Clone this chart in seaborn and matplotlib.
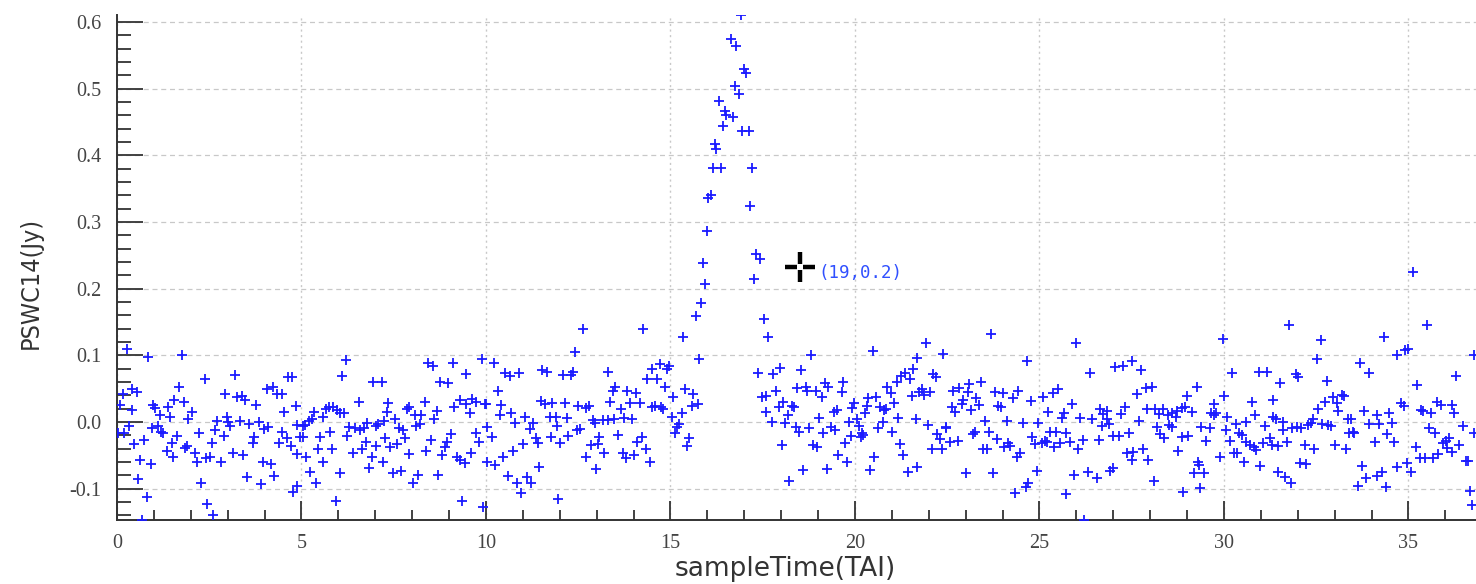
import numpy as np
import pandas as pd
import matplotlib
matplotlib.use('Agg')
import matplotlib.pyplot as plt
from matplotlib.ticker import MultipleLocator, FormatStrFormatter
import seaborn as sns


# sample times (TAI) and PSWC14 flux (Jy) in chunks of time
time_0_5 = [0.26, 0.85, 1.75, 2.39, 3.2, 4.64, 4.73, 0.40, 0.53, 0.15,
            1.69, 4.06, 4.22, 4.33, 4.46, 2.93, 3.26, 3.38, 3.47, 1.54,
            1.82, 3.78, 4.85, 0.08, 0.98, 1.03, 1.39, 0.42, 2.02, 1.16,
            1.43, 1.93, 4.53, 2.7, 2.97, 3.02, 3.32, 3.59, 3.86, 3.99,
            4.1, 4.89, 0.04, 0.19, 0.33, 0.94, 1.12, 1.18, 1.25, 1.62,
            2.23, 2.66, 3.06, 2.9, 3.7, 3.68, 4.46, 4.6, 4.95, 0.46,
            0.73, 1.48, 1.35, 1.52, 1.91, 1.84, 2.11, 2.57, 3.14, 3.42,
            4.38, 4.71, 4.89, 0.62, 0.91, 2.18, 2.41, 2.52, 2.81, 3.95,
            4.17, 3.53, 4.26, 0.58, 3.89, 2.29, 4.87, 4.78, 0.8, 2.43,
            2.61, 0.67]
flux_0_5 = [0.109, 0.098, 0.1005, 0.064, 0.0705, 0.068, 0.067, 0.049, 0.0455, 0.042,
            0.053, 0.049, 0.053, 0.042, 0.042, 0.042, 0.038, 0.039, 0.033, 0.033,
            0.0305, 0.0255, 0.024, 0.0255, 0.0255, 0.0205, 0.022, 0.018, 0.0155, 0.0105,
            0.008, 0.004, 0.0155, 0.002, 0.007, 0.0005, 0.002, -0.003, 0.0005, -0.011,
            -0.007, -0.0045, -0.017, -0.017, -0.006, -0.0095, -0.006, -0.0145, -0.016, -0.021,
            -0.017, -0.012, -0.006, -0.021, -0.023, -0.032, -0.0145, -0.0245, -0.023, -0.033,
            -0.027, -0.032, -0.043, -0.052, -0.036, -0.0395, -0.046, -0.031, -0.046, -0.0495,
            -0.031, -0.036, -0.048, -0.057, -0.063, -0.0595, -0.0545, -0.052, -0.0595, -0.0595,
            -0.063, -0.083, -0.081, -0.086, -0.093, -0.092, -0.096, -0.1045, -0.112, -0.123,
            -0.1395, -0.147]

time_5_10 = [6.21, 6.09, 8.44, 8.56, 9.1, 9.88, 9.46, 6.93, 7.17, 8.75,
             8.98, 6.57, 7.35, 7.33, 5.34, 5.28, 5.21, 5.09, 5.05, 5.59,
             5.66, 5.75, 5.86, 5.95, 6.03, 6.15, 6.29, 6.45, 6.58, 6.69,
             6.78, 7.02, 7.08, 7.23, 7.54, 7.65, 7.74, 7.85, 7.92, 8.08,
             8.23, 8.10, 8.21, 8.35, 8.59, 8.66, 9.13, 9.29, 9.47, 9.56,
             9.63, 9.72, 9.97, 10.03, 9.72, 5.04, 5.5, 5.77, 6.24, 6.75,
             7.26, 7.81, 8.5, 9.04, 8.94, 8.89, 9.81, 5.46, 5.82, 6.63,
             7.02, 7.41, 7.58, 5.12, 6.4, 6.9, 7.92, 8.37, 8.82, 9.6,
             9.21, 9.29, 9.43, 10.03, 5.59, 7.2, 6.84, 5.23, 6.03, 7.47,
             7.71, 8.17, 8.71, 5.39, 8.02, 5.93, 9.34, 9.93]
flux_5_10 = [0.093, 0.069, 0.089, 0.084, 0.089, 0.094, 0.072, 0.06, 0.06, 0.0605,
             0.058, 0.0305, 0.029, 0.0155, 0.0155, 0.004, 0.002, -0.0045, -0.006, 0.008,
             0.019, 0.022, 0.022, 0.018, 0.014, 0.013, -0.007, -0.0095, -0.012, -0.0095,
             -0.001, -0.006, -0.003, 0.002, 0.004, -0.0095, -0.012, 0.019, 0.023, 0.0105,
             0.0105, -0.006, -0.003, 0.0305, 0.004, 0.017, 0.023, 0.033, 0.027, 0.014,
             0.034, 0.0305, 0.027, -0.008, -0.016, -0.023, -0.023, -0.0145, -0.021, -0.0295,
             -0.0245, -0.0245, -0.027, -0.018, -0.0295, -0.037, -0.0295, -0.041, -0.041, -0.041,
             -0.036, -0.038, -0.033, -0.052, -0.046, -0.052, -0.048, -0.043, -0.0495, -0.046,
             -0.053, -0.057, -0.062, -0.0595, -0.0595, -0.0595, -0.0695, -0.0745, -0.076, -0.077,
             -0.073, -0.0795, -0.0795, -0.091, -0.091, -0.118, -0.118, -0.128]

time_10_15 = [12.62, 14.26, 12.41, 10.22, 10.52, 10.65, 10.9, 11.51, 11.64, 12.08,
              12.3, 12.35, 13.32, 14.49, 14.72, 14.9, 14.97, 14.37, 14.64, 14.85,
              10.33, 10.0, 10.42, 10.38, 10.69, 11.05, 10.78, 11.48, 11.6, 11.8,
              12.14, 11.74, 11.9, 12.2, 11.28, 11.93, 12.5, 12.71, 12.8, 13.49,
              13.43, 13.83, 14.06, 13.36, 13.9, 14.17, 13.65, 14.51, 14.57, 14.75,
              14.81, 12.89, 12.96, 13.18, 13.32, 13.47, 13.74, 13.97, 12.54, 12.46,
              10.15, 11.18, 11.36, 11.4, 11.75, 12.01, 12.23, 11.01, 10.74, 10.47,
              10.24, 11.44, 13.07, 12.84, 13.04, 13.2, 12.71, 12.98, 13.59, 14.24,
              14.1, 14.34, 13.7, 13.79, 14.01, 14.44, 10.6, 11.12, 10.85, 11.21,
              10.94, 11.96]
flux_10_15 = [0.139, 0.139, 0.1045, 0.089, 0.074, 0.069, 0.074, 0.078, 0.0755, 0.0705,
              0.0705, 0.0755, 0.0755, 0.079, 0.087, 0.079, 0.084, 0.064, 0.064, 0.053,
              0.047, 0.027, 0.0255, 0.0105, 0.014, 0.008, -0.001, 0.032, 0.027, 0.029,
              0.029, 0.008, 0.008, 0.0055, -0.001, -0.006, 0.024, 0.0205, 0.024, 0.052,
              0.047, 0.047, 0.043, 0.0305, 0.029, 0.029, 0.019, 0.022, 0.024, 0.022,
              0.019, 0.003, -0.002, 0.003, 0.003, 0.004, 0.0055, 0.004, -0.011, -0.012,
              -0.023, -0.011, -0.0245, -0.031, -0.023, -0.031, -0.021, -0.033, -0.043, -0.053,
              -0.0645, -0.068, -0.023, -0.0345, -0.033, -0.046, -0.052, -0.071, -0.0195, -0.023,
              -0.0295, -0.041, -0.046, -0.0545, -0.0495, -0.0595, -0.081, -0.083, -0.091, -0.092,
              -0.106, -0.116]

time_rise = [15.33, 15.78, 15.08, 15.39, 15.6, 15.58, 15.74, 15.3, 15.03, 15.23,
             15.18, 15.12, 15.5, 15.46]
flux_rise = [0.128, 0.094, 0.037, 0.05, 0.042, 0.024, 0.0265, 0.013, 0.008, -0.003,
             -0.007, -0.016, -0.0245, -0.036]

time_flare = [16.90, 16.63, 16.78, 16.99, 17.05, 16.74, 16.85, 16.31, 16.47, 16.5,
              16.69, 16.41, 16.93, 17.14, 16.2, 16.23, 16.14, 16.38, 17.21, 16.09,
              16.03, 17.15, 15.98, 17.31, 17.43, 15.87, 17.26, 15.93, 15.82, 15.68,
              17.53]
flux_flare = [0.61, 0.574, 0.5645, 0.53, 0.524, 0.504, 0.492, 0.482, 0.4665, 0.46,
              0.457, 0.444, 0.4365, 0.4365, 0.417, 0.409, 0.3815, 0.3805, 0.3805, 0.3405,
              0.3355, 0.3245, 0.287, 0.252, 0.244, 0.239, 0.215, 0.2075, 0.179, 0.1595,
              0.154]

time_17_22 = [17.65, 18.8, 20.48, 21.67, 17.38, 17.79, 17.97, 18.55, 21.58, 21.35,
              21.26, 21.49, 21.13, 19.19, 19.28, 19.68, 19.64, 18.44, 18.67, 18.71,
              18.94, 19.1, 17.86, 17.47, 17.6, 20.86, 20.97, 21.74, 21.54, 20.36,
              20.58, 21.06, 18.06, 17.95, 18.28, 18.35, 17.59, 18.19, 19.5, 19.43,
              19.98, 19.92, 20.32, 20.27, 20.69, 20.78, 20.85, 19.03, 17.74, 18.1,
              18.4, 18.49, 18.76, 19.14, 19.34, 19.46, 19.85, 20.05, 20.12, 19.89,
              20.18, 20.21, 20.15, 20.63, 20.77, 21.17, 20.99, 21.65, 18.01, 18.85,
              18.98, 19.73, 21.22, 19.55, 19.78, 20.52, 21.31, 18.6, 19.25, 20.42,
              21.44, 21.69, 18.22]
flux_17_22 = [0.128, 0.1005, 0.1065, 0.0955, 0.073, 0.0715, 0.0805, 0.078, 0.079, 0.074,
              0.069, 0.064, 0.0605, 0.059, 0.053, 0.06, 0.0445, 0.0505, 0.053, 0.0465,
              0.0465, 0.037, 0.0465, 0.037, 0.039, 0.053, 0.044, 0.0455, 0.039, 0.0355,
              0.037, 0.029, 0.0305, 0.023, 0.024, 0.022, 0.0155, 0.0105, 0.018, 0.0155,
              0.029, 0.0205, 0.024, 0.013, 0.022, 0.018, 0.019, 0.0065, -0.0005, -0.002,
              -0.007, -0.0145, -0.0095, -0.017, -0.007, -0.012, 0.0005, 0.004, -0.006, -0.021,
              -0.017, -0.0195, -0.023, -0.0095, 0.0005, 0.0065, -0.0145, 0.004, -0.0345, -0.0345,
              -0.037, -0.032, -0.033, -0.0495, -0.0595, -0.052, -0.0495, -0.072, -0.07, -0.072,
              -0.075, -0.067, -0.0885]

time_22_27 = [23.68, 21.93, 25.99, 22.39, 24.65, 26.37, 22.12, 22.19, 23.41, 23.1,
              22.83, 22.65, 23.05, 21.81, 21.87, 22.03, 23.8, 24.02, 24.43, 24.29,
              24.76, 25.09, 25.36, 25.51, 22.94, 22.89, 23.29, 23.37, 22.62, 22.71,
              23.14, 23.88, 23.95, 25.23, 25.66, 25.6, 25.89, 26.09, 26.41, 26.63,
              26.72, 26.83, 26.69, 21.99, 22.48, 22.46, 23.52, 24.11, 24.54, 24.97,
              22.23, 22.3, 22.57, 22.8, 23.2, 23.25, 23.64, 23.86, 24.15, 24.2,
              24.04, 24.81, 24.88, 25.06, 25.15, 25.21, 25.28, 25.45, 25.72, 25.56,
              25.39, 25.83, 26.17, 26.05, 26.6, 22.08, 22.35, 23.46, 23.59, 24.47,
              24.38, 23.01, 23.75, 24.92, 25.93, 26.32, 26.55, 24.7, 24.64, 24.33,
              25.72, 26.2]
flux_22_27 = [0.132, 0.118, 0.118, 0.102, 0.0915, 0.073, 0.072, 0.067, 0.06, 0.0565,
              0.0515, 0.047, 0.0455, 0.0495, 0.0405, 0.0455, 0.0455, 0.043, 0.047, 0.0355,
              0.0315, 0.037, 0.044, 0.049, 0.033, 0.027, 0.0355, 0.0255, 0.022, 0.0155,
              0.018, 0.024, 0.022, 0.0155, 0.013, 0.0055, 0.0265, 0.0055, 0.004, 0.019,
              0.0115, 0.004, -0.006, -0.005, -0.007, -0.0095, 0.0015, 0.0015, -0.001, -0.001,
              -0.0185, -0.026, -0.0295, -0.028, -0.0185, -0.0145, -0.0145, -0.0255, -0.031, -0.036,
              -0.037, -0.022, -0.033, -0.031, -0.028, -0.0295, -0.0145, -0.0145, -0.016, -0.032,
              -0.038, -0.0295, -0.027, -0.041, -0.027, -0.041, -0.041, -0.041, -0.041, -0.047,
              -0.052, -0.077, -0.077, -0.073, -0.0795, -0.0745, -0.0835, -0.092, -0.097, -0.107,
              -0.108, -0.147]

time_27_32 = [31.77, 29.96, 27.52, 27.04, 27.27, 27.75, 30.21, 30.96, 31.16, 31.95,
              31.52, 29.26, 28.04, 27.89, 27.63, 28.99, 30.0, 30.75, 31.32, 29.73,
              26.82, 27.31, 27.2, 27.92, 28.13, 28.34, 28.25, 28.49, 28.58, 28.7,
              28.73, 28.85, 28.94, 29.14, 29.65, 29.74, 29.79, 30.09, 30.84, 31.33,
              31.4, 31.59, 27.7, 26.89, 28.19, 28.52, 28.58, 29.37, 29.62, 30.32,
              30.61, 31.1, 31.59, 31.84, 31.97, 30.05, 27.0, 27.16, 27.43, 28.27,
              28.37, 28.85, 29.03, 29.51, 30.15, 30.42, 30.48, 30.61, 30.7, 30.81,
              30.88, 31.06, 31.26, 31.29, 31.47, 31.7, 27.36, 27.54, 27.8, 28.76,
              29.88, 30.26, 30.35, 27.5, 27.95, 29.3, 29.33, 30.54, 30.98, 32.06,
              27.0, 26.91, 29.19, 29.46, 31.47, 31.65, 28.1, 31.81, 28.88, 29.35]
flux_27_32 = [0.1455, 0.1245, 0.092, 0.082, 0.084, 0.078, 0.073, 0.0755, 0.0755, 0.072,
              0.058, 0.053, 0.053, 0.0505, 0.042, 0.039, 0.039, 0.0305, 0.033, 0.027,
              0.017, 0.022, 0.012, 0.019, 0.019, 0.019, 0.012, 0.0105, 0.013, 0.008,
              0.017, 0.0205, 0.022, 0.0155, 0.013, 0.0105, 0.013, 0.008, 0.0105, 0.007,
              0.004, 0.0005, 0.002, -0.003, -0.008, -0.0045, -0.008, -0.007, -0.0095, -0.003,
              0.0005, -0.006, -0.012, -0.0095, -0.008, -0.012, -0.021, -0.021, -0.017, -0.018,
              -0.0245, -0.023, -0.021, -0.028, -0.028, -0.017, -0.0195, -0.0295, -0.0345, -0.038,
              -0.042, -0.031, -0.0245, -0.0345, -0.036, -0.0295, -0.046, -0.0445, -0.041, -0.043,
              -0.052, -0.046, -0.046, -0.057, -0.057, -0.0595, -0.0645, -0.0595, -0.066, -0.062,
              -0.0695, -0.073, -0.076, -0.076, -0.0745, -0.083, -0.0885, -0.091, -0.1045, -0.0995]

time_32_37 = [35.13, 35.49, 32.62, 34.33, 32.51, 34.70, 34.91, 35.0, 36.78, 33.69,
              33.94, 32.0, 32.78, 36.3, 35.22, 32.96, 33.05, 33.19, 33.25, 32.73,
              32.55, 33.10, 33.79, 34.15, 34.48, 34.81, 34.87, 35.33, 35.40, 35.62,
              35.76, 35.89, 36.19, 36.23, 32.1, 32.28, 32.35, 32.40, 32.65, 32.83,
              32.89, 33.36, 33.45, 33.94, 34.21, 34.54, 35.56, 35.71, 36.47, 36.78,
              33.40, 33.49, 33.53, 34.41, 32.19, 32.44, 33.01, 33.32, 34.09, 34.6,
              35.94, 36.01, 36.1, 36.05, 36.17, 36.38, 35.21, 35.32, 35.45, 35.66,
              35.81, 36.55, 36.61, 32.22, 33.73, 34.70, 34.97, 35.06, 34.27, 34.15,
              33.86, 33.64, 34.39, 36.66, 36.71]
flux_32_37 = [0.2255, 0.1455, 0.123, 0.127, 0.094, 0.1005, 0.108, 0.109, 0.1005, 0.089,
              0.073, 0.067, 0.062, 0.069, 0.0555, 0.038, 0.029, 0.0405, 0.039, 0.0305,
              0.019, 0.017, 0.017, 0.0105, 0.013, 0.029, 0.024, 0.018, 0.017, 0.014,
              0.0305, 0.0255, 0.0255, 0.013, -0.0095, -0.0045, -0.001, 0.004, -0.003, -0.0045,
              -0.006, 0.004, 0.004, -0.003, -0.003, -0.001, -0.0095, -0.016, -0.006, -0.017,
              -0.016, -0.0145, -0.016, -0.018, -0.0345, -0.041, -0.0345, -0.041, -0.0295, -0.0295,
              -0.031, -0.028, -0.0245, -0.0395, -0.0445, -0.0345, -0.038, -0.0545, -0.0545, -0.0545,
              -0.048, -0.058, -0.058, -0.063, -0.066, -0.068, -0.061, -0.0745, -0.0745, -0.081,
              -0.0845, -0.096, -0.098, -0.103, -0.1245]

x_ticks = [0, 5, 10, 15, 20, 25, 30, 35]
y_ticks = [-0.1, 0.0, 0.1, 0.2, 0.3, 0.4, 0.5, 0.6]

cursor_pos = (18.51, 0.232)
cursor_label = '(19,0.2)'


times = [time_0_5, time_5_10, time_10_15, time_rise, time_flare,
         time_17_22, time_22_27, time_27_32, time_32_37]
fluxes = [flux_0_5, flux_5_10, flux_10_15, flux_rise, flux_flare,
          flux_17_22, flux_22_27, flux_27_32, flux_32_37]

df = pd.DataFrame({'sampleTime': np.concatenate(times),
                   'flux': np.concatenate(fluxes)})

sns.set_style('white')
plt.rcParams['axes.unicode_minus'] = False

fig = plt.figure(figsize=(14.76, 5.84), dpi=100)
ax = fig.add_axes([117 / 1476, 64 / 584, 1359 / 1476, 505 / 584])

sns.scatterplot(data=df, x='sampleTime', y='flux', marker='+', color='#1a1aff',
                s=50, linewidth=1.3, ax=ax, zorder=3)

ax.set_xlim(0, 36.83)
ax.set_ylim(-0.147, 0.6105)

ax.set_xticks(x_ticks)
ax.set_yticks(y_ticks)
ax.xaxis.set_minor_locator(MultipleLocator(1))
ax.yaxis.set_minor_locator(MultipleLocator(0.02))
ax.yaxis.set_major_formatter(FormatStrFormatter('%.1f'))

for side in ['top', 'right']:
    ax.spines[side].set_visible(False)
for side in ['left', 'bottom']:
    ax.spines[side].set_color('#333333')
    ax.spines[side].set_linewidth(1.4)

# seaborn's white style hides ticks, switch them back on (inward, like the original)
ax.tick_params(bottom=True, left=True, which='both')
ax.tick_params(axis='y', which='major', direction='in', length=19, width=1.3, color='#333333', pad=11)
ax.tick_params(axis='y', which='minor', direction='in', length=10, width=1.3, color='#333333')
ax.tick_params(axis='x', which='major', direction='in', length=14, width=1.3, color='#333333', pad=10)
ax.tick_params(axis='x', which='minor', direction='in', length=7, width=1.3, color='#333333')

for lab in ax.get_xticklabels() + ax.get_yticklabels():
    lab.set_fontfamily('Liberation Serif')
    lab.set_fontsize(14.5)
    lab.set_color('#444444')

ax.yaxis.grid(True, which='major', linestyle=(0, (4, 3)), color='#c8c8c8', linewidth=0.9)
ax.xaxis.grid(True, which='major', linestyle=(0, (1.5, 2.5)), color='#c8c8c8', linewidth=1.0)
ax.set_axisbelow(True)

ax.set_xlabel('sampleTime(TAI)', fontsize=19, family='DejaVu Sans', color='#333333')
ax.set_ylabel('PSWC14(Jy)', fontsize=18, family='DejaVu Sans', stretch='condensed', color='#333333')
ax.xaxis.set_label_coords(0.4916, -0.071)
ax.yaxis.set_label_coords(-0.0545, 0.469)

# cursor crosshair with readout
ax.plot(*cursor_pos, marker='+', color='black', markersize=22, markeredgewidth=3.2, zorder=5)
ax.plot(*cursor_pos, marker='s', color='white', markersize=4.5, markeredgewidth=0, zorder=6)
ax.annotate(cursor_label, xy=cursor_pos, xytext=(13, -4), textcoords='offset points',
            fontsize=12.5, family='DejaVu Sans Mono', color='#3050ff', va='center', ha='left')

fig.savefig('out.png', dpi=100)
